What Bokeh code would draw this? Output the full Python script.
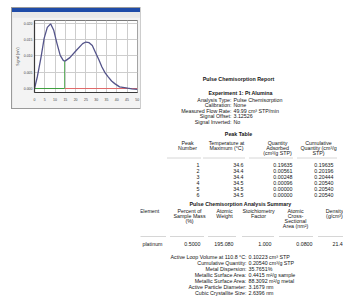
from bokeh.plotting import figure
from bokeh.layouts import row, column
from bokeh.models import Range1d, Spacer, FixedTicker, Label, NumeralTickFormatter
from bokeh.core.properties import value
from bokeh.embed import file_html
from bokeh.resources import INLINE

FONT = value("Liberation Sans")

# ---------------- chart data ----------------
minutes = [0.0, 1.41, 3.14, 4.69, 6.23, 7.83, 9.37, 10.92, 12.51, 14.06, 15.0, 17.2,
           20.29, 23.43, 24.98, 26.57, 28.12, 29.66, 31.26, 32.8, 34.35, 35.94,
           37.49, 39.03, 41.38, 45.31, 47.33, 50.0]
signal = [0.0, 0.0037, 0.0095, 0.0154, 0.0188, 0.0199, 0.0179, 0.0139, 0.0102,
          0.0086, 0.0085, 0.0095, 0.0117, 0.0138, 0.0143, 0.0141, 0.0132, 0.0111,
          0.0089, 0.0066, 0.0048, 0.0035, 0.0023, 0.0015, 0.0005, 0.0001,
          -0.0001, -0.0003]
x_ticks = [0, 5, 10, 15, 20, 25, 30, 35, 40, 45, 50]
y_ticks = [0.0, 0.005, 0.010, 0.015, 0.020]
baseline_value = 0.0
peak_end_minute = 14.6
peak_end_signal = 0.0085

# ---------------- report data ----------------
report_title = "Pulse Chemisorption Report"
experiment_title = "Experiment 1: Pt Alumina"
info_labels = ["Analysis Type:", "Calibration:", "Measured Flow Rate:", "Signal Offset:", "Signal Inverted:"]
info_values = ["Pulse Chemisorption", "None", "49.99 cm\u00b3 STP/min", "3.12526", "No"]

peak_table_title = "Peak Table"
peak_headers = [["Peak", "Number"],
                ["Temperature at", "Maximum (\u00b0C)"],
                ["Quantity", "Adsorbed", "(cm\u00b3/g STP)"],
                ["Cumulative", "Quantity (cm\u00b3/g", "STP)"]]
peak_number = ["1", "2", "3", "4", "5", "6"]
peak_temperature = ["34.6", "34.4", "34.4", "34.5", "34.5", "34.5"]
peak_quantity = ["0.19635", "0.00561", "0.00248", "0.00096", "0.00000", "0.00000"]
peak_cumulative = ["0.19635", "0.20196", "0.20444", "0.20540", "0.20540", "0.20540"]

summary_title = "Pulse Chemisorption Analysis Summary"
summary_headers = [["Element"],
                   ["Percent of", "Sample Mass", "(%)"],
                   ["Atomic", "Weight"],
                   ["Stoichiometry", "Factor"],
                   ["Atomic", "Cross-", "Sectional", "Area (nm\u00b2)"],
                   ["Density", "(g/cm\u00b3)"]]
summary_row = ["platinum", "0.5000", "195.080", "1.000", "0.0800", "21.4"]

result_labels = ["Active Loop Volume at 110.8 \u00b0C:", "Cumulative Quantity:", "Metal Dispersion:",
                 "Metallic Surface Area:", "Metallic Surface Area:", "Active Particle Diameter:",
                 "Cubic Crystallite Size:"]
result_values = ["0.10223 cm\u00b3 STP", "0.20540 cm\u00b3/g STP", "35.7651%",
                 "0.4415  m\u00b2/g sample", "88.3092  m\u00b2/g metal", "3.1679 nm", "2.6396 nm"]

# ---------------- chart ----------------
X0, X1 = 0.0, 50.1
Y0, Y1 = -0.00123, 0.02092
chart = figure(width=128, height=91, x_range=Range1d(X0, X1), y_range=Range1d(Y0, Y1),
               output_backend="svg", toolbar_location=None,
               min_border_left=18, min_border_right=3, min_border_top=3, min_border_bottom=16,
               background_fill_color="white", border_fill_color="#f3f3f3",
               outline_line_color="#7a7a7a", outline_line_width=1)
chart.xaxis.ticker = FixedTicker(ticks=x_ticks)
chart.yaxis.ticker = FixedTicker(ticks=y_ticks)
chart.yaxis.formatter = NumeralTickFormatter(format="0.000")
for ax in chart.axis:
    ax.major_label_text_font_size = "3.5px"
    ax.major_label_text_font = "Liberation Sans"
    ax.major_label_text_color = "#444444"
    ax.major_tick_in = 0
    ax.major_tick_out = 0
    ax.minor_tick_in = 0
    ax.minor_tick_out = 0
    ax.axis_line_color = "#3a3a3a"
    ax.axis_line_width = 1.2
chart.xaxis.major_label_standoff = 5
chart.yaxis.major_label_standoff = 2
chart.yaxis.axis_label = "Signal (mV)"
chart.yaxis.axis_label_text_font_size = "3.5px"
chart.yaxis.axis_label_text_font_style = "normal"
chart.yaxis.axis_label_text_font = "Liberation Sans"
chart.yaxis.axis_label_text_color = "#444444"
chart.yaxis.axis_label_standoff = 1
chart.xgrid.grid_line_color = "#cdcdcd"
chart.ygrid.grid_line_color = "#cdcdcd"

chart.line(x=[0, peak_end_minute], y=[baseline_value, baseline_value],
           line_color="#3f9f3f", line_width=1)
chart.line(x=[peak_end_minute, X1], y=[baseline_value, baseline_value],
           line_color="#e06a6a", line_width=1)
chart.segment(x0=[peak_end_minute], y0=[baseline_value], x1=[peak_end_minute],
              y1=[peak_end_signal], line_color="#3f9f3f", line_width=0.8)
chart.line(x=minutes, y=signal, line_color="#54548a", line_width=1.3)
chart.add_layout(Label(x=33.2, y=-0.0045, text="Minutes", text_font_size="3.5px",
                       text_font="Liberation Sans", text_color="#444444",
                       text_align="center", text_baseline="middle"))

# window: a transparent 9px spacer lets the column's CSS background show the
# blue title bar and the grey tab strip above the chart
window = column(Spacer(width=128, height=9), chart, spacing=0,
                styles={"outline": "1px solid #9a9a9a",
                        "background": "linear-gradient(to bottom, #1f4ca8 0px, #1f4ca8 4px, "
                                      "#e9e9e9 4px, #e9e9e9 100%)"})
left = column(Spacer(width=128, height=8), window, spacing=0)

# ---------------- report text ----------------
tf = figure(width=203, height=296, x_range=Range1d(140, 343), y_range=Range1d(296, 0),
            x_axis_type=None, y_axis_type=None,
            output_backend="svg", toolbar_location=None, min_border=0,
            outline_line_color=None, background_fill_color="white",
            border_fill_color="white")
tf.grid.visible = False

INK = "#151515"
BODY = "5.3px"


def put(xs, ys, texts, align="left", bold=False, size=BODY):
    tf.text(x=xs, y=ys, text=texts, text_align=align, text_baseline="middle",
            text_font=FONT, text_font_size=size,
            text_font_style="bold" if bold else "normal", text_color=INK)


def dashes(x0s, x1s, y):
    tf.segment(x0=x0s, y0=[y] * len(x0s), x1=x1s, y1=[y] * len(x0s),
               line_color="#8a8a8a", line_width=0.7, line_dash="1 1")


put([238], [78], [report_title], "center", True)
put([240], [92], [experiment_title], "center", True)

INFO_COLON, INFO_Y0, INFO_STEP = 231, 99, 5.6
info_y = [INFO_Y0 + i * INFO_STEP for i in range(len(info_labels))]
put([INFO_COLON] * len(info_labels), info_y, info_labels, "right")
put([INFO_COLON + 2] * len(info_values), info_y, info_values, "left")

# peak table
put([238], [133.5], [peak_table_title], "center", True)
peak_hdr_x = [187, 226, 277, 318]
HDR_Y0, HDR_STEP = 142, 5
for cx, lines in zip(peak_hdr_x, peak_headers):
    put([cx] * len(lines), [HDR_Y0 + i * HDR_STEP for i in range(len(lines))], lines, "center")
dashes([167, 203, 249, 297], [200, 245, 293, 337], 157.5)
ROW_Y0, ROW_STEP = 164, 6
row_y = [ROW_Y0 + i * ROW_STEP for i in range(len(peak_number))]
put([199] * 6, row_y, peak_number, "right")
put([243] * 6, row_y, peak_temperature, "right")
put([292] * 6, row_y, peak_quantity, "right")
put([333] * 6, row_y, peak_cumulative, "right")

# summary table
put([240], [203], [summary_title], "center", True)
sum_hdr_x = [149, 189, 224, 258, 295, 334]
SUM_Y0 = 210
for cx, lines in zip(sum_hdr_x, summary_headers):
    put([cx] * len(lines), [SUM_Y0 + i * HDR_STEP for i in range(len(lines))], lines, "center")
dashes([136, 170, 208, 242, 279, 318], [165, 203, 236, 274, 313, 343], 236)
sum_right = [162, 200, 233, 271, 312]
PT_Y = 243.5
put(sum_right, [PT_Y] * 5, summary_row[:5], "right")
put([332], [PT_Y], [summary_row[5]], "left")

RES_COLON, RES_Y0, RES_STEP = 246, 256, 6.0
res_y = [RES_Y0 + i * RES_STEP for i in range(len(result_labels))]
put([RES_COLON] * len(result_labels), res_y, result_labels, "right")
put([RES_COLON + 2] * len(result_values), res_y, result_values, "left")

layout = row(Spacer(width=12, height=296), left, tf, spacing=0)

open("out.html", "w").write(file_html(layout, INLINE))
